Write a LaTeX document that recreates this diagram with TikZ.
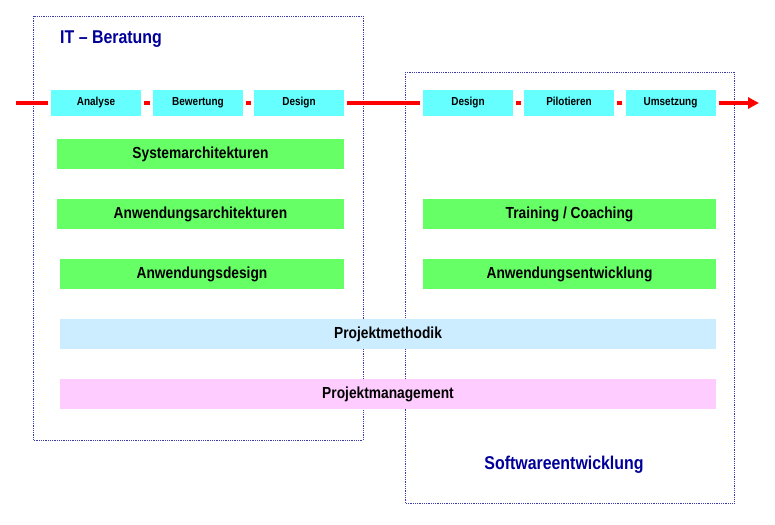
\documentclass[tikz,border=0pt]{standalone}
\usepackage{fontspec}
\setmainfont[FakeStretch=0.86]{Liberation Sans}
\usetikzlibrary{arrows.meta}
\definecolor{cyanbox}{HTML}{66FFFF}
\definecolor{greenbox}{HTML}{66FF66}
\definecolor{bluebar}{HTML}{CCECFF}
\definecolor{pinkbar}{HTML}{FFCCFF}
\definecolor{navy}{HTML}{000099}
\definecolor{frame}{HTML}{3A3AA8}
\begin{document}
\begin{tikzpicture}[x=1pt,y=-1pt,
  area/.style={draw=frame, densely dotted, line width=0.8pt},
  phase/.style={fill=cyanbox, inner sep=0, minimum width=90pt, minimum height=25pt, text height=8.4pt, text depth=2.4pt, font=\fontsize{11.6}{13}\selectfont\bfseries},
  topic/.style={fill=greenbox, inner sep=0, minimum height=30pt, text height=11.6pt, text depth=3.4pt, font=\fontsize{16}{18}\selectfont\bfseries},
  bar/.style={inner sep=0, minimum width=656pt, minimum height=30pt, text height=11.6pt, text depth=3.4pt, font=\fontsize{16}{18}\selectfont\bfseries},
  flow/.style={draw=red, line width=4pt},
  gap/.style={flow, shorten <=3pt, shorten >=3pt},
  title/.style={text=navy, font=\fontsize{18.5}{21}\selectfont\bfseries, inner sep=0}
]
\useasboundingbox (0,0) rectangle (775,524);
% areas
\draw[area] (33,16) rectangle (363,440);
\draw[area] (405,72) rectangle (734,503);
\node[title, anchor=west] (t1) at (60,39) {IT – Beratung};
\node[title] (t2) at (564,465) {Softwareentwicklung};
% phases
\node[phase] (p1) at (96,103) {Analyse};
\node[phase] (p2) at (198,103) {Bewertung};
\node[phase] (p3) at (299,103) {Design};
\node[phase] (p4) at (468,103) {Design};
\node[phase] (p5) at (569,103) {Pilotieren};
\node[phase] (p6) at (670.5,103) {Umsetzung};
\coordinate (s) at (16,103);
\coordinate (e) at (759,103);
\draw[flow, shorten >=3pt] (s) -- (p1.west);
\draw[gap] (p1.east) -- (p2.west);
\draw[gap] (p2.east) -- (p3.west);
\draw[gap] (p3.east) -- (p4.west);
\draw[gap] (p4.east) -- (p5.west);
\draw[gap] (p5.east) -- (p6.west);
\draw[flow, shorten <=3pt, -{Triangle[length=11pt,width=11pt]}] (p6.east) -- (e);
% topics
\node[topic, minimum width=287pt] (g1) at (200.5,154) {Systemarchitekturen};
\node[topic, minimum width=287pt] (g2) at (200.5,214) {Anwendungsarchitekturen};
\node[topic, minimum width=284pt] (g3) at (202,274) {Anwendungsdesign};
\node[topic, minimum width=293pt] (g4) at (569.5,214) {Training / Coaching};
\node[topic, minimum width=293pt] (g5) at (569.5,274) {Anwendungsentwicklung};
% bars
\node[bar, fill=bluebar] (b1) at (388,334) {Projektmethodik};
\node[bar, fill=pinkbar] (b2) at (388,394) {Projektmanagement};
\end{tikzpicture}
\end{document}
